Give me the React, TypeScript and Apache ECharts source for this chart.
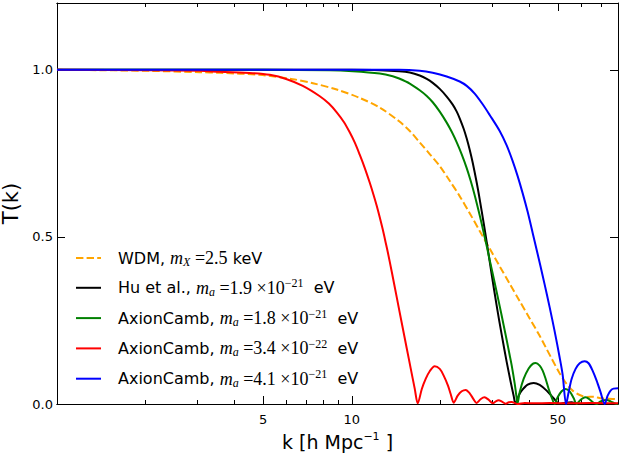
import React, { useEffect, useRef } from "react";
import * as echarts from "echarts";

// ---------- data (k in h/Mpc, T(k)) ----------
const xTickLabels = [5, 10, 50];
const xMinorTicks = [2, 3, 4, 6, 7, 8, 9, 20, 30, 40, 60, 70];
const yTicks = [0, 0.5, 1.0];

const seriesNames = [
  "WDM, m_X = 2.5 keV",
  "Hu et al., m_a = 1.9e-21 eV",
  "AxionCamb, m_a = 1.8e-21 eV",
  "AxionCamb, m_a = 3.4e-22 eV",
  "AxionCamb, m_a = 4.1e-21 eV",
];
const seriesColors = ["#FFA500", "#000000", "#008000", "#FF0000", "#0000FF"];

const wdmData = [
  [1.0, 1.0], [1.4, 0.999], [2.07, 0.997], [3.05, 0.993], [3.57, 0.991], [4.87, 0.985],
  [6.31, 0.972], [7.38, 0.96], [8.89, 0.941], [10.64, 0.916], [12.44, 0.887], [14.48, 0.846],
  [15.73, 0.817], [17.0, 0.783], [18.38, 0.748], [19.88, 0.712], [21.49, 0.668], [23.23, 0.622],
  [25.12, 0.571], [27.16, 0.518], [29.36, 0.465], [31.75, 0.412], [34.33, 0.36], [37.11, 0.308],
  [40.13, 0.256], [43.39, 0.204], [45.47, 0.17], [47.64, 0.136], [50.7, 0.092], [53.54, 0.06],
  [56.12, 0.04], [59.3, 0.027], [62.6, 0.021], [66.1, 0.022], [69.85, 0.017], [74.35, 0.016],
  [80.0, 0.014],
];

const huData = [
  [1.0, 1.0], [5.0, 1.0], [10.0, 1.0], [12.44, 0.999], [14.48, 0.996], [15.73, 0.992],
  [17.0, 0.983], [17.96, 0.973], [18.82, 0.961], [19.88, 0.943], [20.99, 0.92], [22.0, 0.896],
  [22.7, 0.875], [23.23, 0.855], [23.98, 0.823], [24.54, 0.7945], [25.12, 0.761], [25.72, 0.722],
  [26.54, 0.662], [27.16, 0.6125], [28.03, 0.5405], [28.7, 0.4835], [29.83, 0.3875], [31.0, 0.295],
  [32.25, 0.2075], [33.53, 0.126], [34.6, 0.066], [35.42, 0.024], [35.92, 0.0], [36.82, 0.025],
  [37.7, 0.04], [39.5, 0.058], [41.4, 0.063], [43.39, 0.057], [45.82, 0.04], [48.38, 0.017],
  [50.7, 0.0], [53.13, 0.004], [55.68, 0.005], [58.36, 0.001], [64.1, 0.001], [80.0, 0.0],
];

const axion18Data = [
  [1.0, 1.0], [5.0, 1.0], [8.42, 0.999], [10.08, 0.996], [12.44, 0.989], [13.77, 0.981],
  [14.48, 0.974], [15.73, 0.959], [17.0, 0.939], [17.96, 0.922], [18.82, 0.903], [19.88, 0.875],
  [20.99, 0.842], [21.83, 0.8145], [22.7, 0.783], [23.6, 0.747], [24.54, 0.706], [25.31, 0.668],
  [26.12, 0.625], [26.95, 0.577], [27.6, 0.5385], [28.7, 0.472], [29.36, 0.431], [30.53, 0.363],
  [31.75, 0.293], [32.76, 0.235], [33.53, 0.1915], [34.33, 0.146], [34.87, 0.1155], [35.69, 0.0615],
  [36.25, 0.0175], [36.47, 0.0], [37.11, 0.035], [38.28, 0.075], [39.81, 0.106], [41.08, 0.12],
  [42.06, 0.123], [43.39, 0.115], [44.42, 0.1], [45.47, 0.075], [46.55, 0.045], [47.64, 0.02],
  [48.76, 0.0], [49.92, 0.02], [51.5, 0.038], [53.13, 0.045], [54.83, 0.038], [56.56, 0.018],
  [57.9, 0.0], [59.3, 0.01], [60.7, 0.017], [62.11, 0.02], [63.57, 0.016], [65.6, 0.006],
  [67.7, 0.0], [69.3, 0.006], [71.5, 0.011], [73.2, 0.012], [75.5, 0.008], [77.9, 0.002],
  [79.1, 0.0], [80.0, 0.001],
];

const axion34Data = [
  [1.0, 1.0], [2.07, 0.999], [3.05, 0.997], [3.57, 0.994], [4.62, 0.99], [5.27, 0.985],
  [6.02, 0.972], [6.82, 0.952], [7.79, 0.921], [8.36, 0.899], [8.89, 0.873], [9.4, 0.844],
  [9.84, 0.813], [10.24, 0.782], [10.64, 0.746], [11.07, 0.706], [11.51, 0.662], [11.87, 0.624],
  [12.15, 0.593], [12.44, 0.559], [12.74, 0.522], [13.04, 0.482], [13.25, 0.454], [13.67, 0.395],
  [14.21, 0.319], [14.77, 0.243], [15.36, 0.167], [15.85, 0.106], [16.35, 0.046], [16.74, 0.002],
  [17.28, 0.045], [17.81, 0.075], [18.38, 0.098], [19.11, 0.113], [19.88, 0.105], [20.5, 0.085],
  [21.2, 0.055], [21.65, 0.03], [22.17, 0.004], [22.87, 0.025], [23.6, 0.038], [24.35, 0.042],
  [25.12, 0.032], [25.9, 0.014], [26.5, 0.003], [27.4, 0.015], [28.2, 0.02], [29.1, 0.013],
  [30.1, 0.002], [30.8, 0.008], [31.5, 0.011], [32.3, 0.007], [33.3, 0.001], [34.1, 0.005],
  [34.9, 0.006], [35.7, 0.003], [36.5, 0.0], [38.6, 0.003], [41.7, 0.002], [46.9, 0.003],
  [54.8, 0.002], [64.1, 0.003], [80.0, 0.002],
];

const axion41Data = [
  [1.0, 1.0], [10.0, 1.0], [14.48, 1.0], [17.0, 0.997], [18.82, 0.991], [20.99, 0.98],
  [23.23, 0.965], [24.54, 0.952], [26.12, 0.929], [27.8, 0.897], [29.36, 0.865], [31.75, 0.817],
  [33.53, 0.774], [35.14, 0.727], [36.53, 0.682], [37.98, 0.631], [39.5, 0.575], [41.08, 0.512],
  [42.39, 0.461], [43.73, 0.41], [45.1, 0.358], [46.9, 0.29], [48.76, 0.218], [50.7, 0.14],
  [51.91, 0.088], [53.34, 0.0], [54.39, 0.035], [55.68, 0.075], [57.44, 0.105], [59.3, 0.122],
  [61.66, 0.128], [63.57, 0.122], [65.6, 0.1], [67.7, 0.07], [69.85, 0.035], [72.07, 0.0],
  [73.78, 0.025], [75.5, 0.04], [77.3, 0.046], [80.0, 0.047],
];

const allData = [wdmData, huData, axion18Data, axion34Data, axion41Data];

// legend labels as rich text (math parts in serif italic)
const legendLabels: Record<string, string> = {
  [seriesNames[0]]: "{s0|WDM, }{mi|m}{sub|X}{mt| =2.5}{s| keV}",
  [seriesNames[1]]: "{s0|Hu et al., }{mi|m}{sub|a}{mt| =1.9 ×10}{sup|−21}{s|  eV}",
  [seriesNames[2]]: "{s0|AxionCamb, }{mi|m}{sub|a}{mt| =1.8 ×10}{sup|−21}{s|  eV}",
  [seriesNames[3]]: "{s0|AxionCamb, }{mi|m}{sub|a}{mt| =3.4 ×10}{sup|−22}{s|  eV}",
  [seriesNames[4]]: "{s0|AxionCamb, }{mi|m}{sub|a}{mt| =4.1 ×10}{sup|−21}{s|  eV}",
};

const SANS = "DejaVu Sans";
const SERIF = "Liberation Serif";

export default function App() {
  const ref = useRef<HTMLDivElement>(null);

  useEffect(() => {
    if (!ref.current) return;
    const chart = echarts.init(ref.current, null, { renderer: "svg" });

    const frame = { show: true, lineStyle: { color: "#000", width: 1 } };
    const baseX: any = {
      type: "log",
      logBase: 10,
      min: 1,
      max: 80,
      gridIndex: 0,
      splitLine: { show: false },
      minorTick: { show: false },
      minorSplitLine: { show: false },
      axisLine: frame,
    };
    const baseY: any = {
      type: "value",
      min: 0,
      max: 1.2,
      splitLine: { show: false },
      axisLine: frame,
    };

    const option: any = {
      animation: false,
      backgroundColor: "#fff",
      grid: {
        left: 57,
        right: 1,
        top: 3,
        bottom: 50,
        containLabel: false,
        outerBoundsMode: "none",
      },
      legend: {
        orient: "vertical",
        left: 75,
        top: 248,
        padding: 0,
        itemWidth: 25,
        itemHeight: 14,
        itemGap: 9.3,
        selectedMode: false,
        data: seriesNames,
        itemStyle: { opacity: 0 },
        formatter: (name: string) => legendLabels[name] || name,
        textStyle: {
          color: "#000",
          rich: {
            s0: { fontFamily: SANS, fontSize: 16, color: "#000", lineHeight: 20, padding: [0, 0, 0, 12] },
            s: { fontFamily: SANS, fontSize: 16, color: "#000", lineHeight: 20 },
            mi: { fontFamily: SERIF, fontStyle: "italic", fontSize: 18, color: "#000", lineHeight: 20 },
            mt: { fontFamily: SERIF, fontSize: 18, color: "#000", lineHeight: 20 },
            sub: { fontFamily: SERIF, fontStyle: "italic", fontSize: 12, color: "#000", lineHeight: 12, padding: [8, 0, 0, 0] },
            sup: { fontFamily: SERIF, fontSize: 12, color: "#000", lineHeight: 12, padding: [0, 0, 9, 0] },
          },
        },
      },
      xAxis: [
        {
          ...baseX,
          position: "bottom",
          name: "{a|k [h Mpc}{sup|−1}{a| ]}",
          nameLocation: "middle",
          nameGap: 25,
          nameTextStyle: {
            rich: {
              a: { fontFamily: SANS, fontSize: 19, color: "#000", lineHeight: 24 },
              sup: { fontFamily: SANS, fontSize: 11, color: "#000", lineHeight: 11, padding: [0, 0, 12, 0] },
            },
          },
          axisTick: { show: true, inside: true, length: 8, customValues: xTickLabels, lineStyle: { color: "#000" } },
          axisLabel: {
            show: true,
            customValues: xTickLabels,
            formatter: (v: number) => String(Math.round(v)),
            margin: 9,
            fontFamily: SANS,
            fontSize: 13,
            color: "#000",
          },
        },
        {
          ...baseX,
          position: "bottom",
          axisTick: { show: true, inside: true, length: 4, customValues: xMinorTicks, lineStyle: { color: "#000" } },
          axisLabel: { show: false },
        },
        {
          ...baseX,
          position: "top",
          axisTick: { show: true, inside: true, length: 8, customValues: xTickLabels, lineStyle: { color: "#000" } },
          axisLabel: { show: false },
        },
        {
          ...baseX,
          position: "top",
          axisTick: { show: true, inside: true, length: 4, customValues: xMinorTicks, lineStyle: { color: "#000" } },
          axisLabel: { show: false },
        },
      ],
      yAxis: [
        {
          ...baseY,
          position: "left",
          name: "T(k)",
          nameLocation: "middle",
          nameGap: 27,
          nameTextStyle: { fontFamily: SANS, fontSize: 21, color: "#000" },
          axisTick: { show: true, inside: true, length: 8, customValues: yTicks, lineStyle: { color: "#000" } },
          axisLabel: {
            show: true,
            customValues: yTicks,
            formatter: (v: number) => v.toFixed(1),
            margin: 4,
            fontFamily: SANS,
            fontSize: 13,
            color: "#000",
          },
        },
        {
          ...baseY,
          position: "right",
          axisTick: { show: true, inside: true, length: 8, customValues: yTicks, lineStyle: { color: "#000" } },
          axisLabel: { show: false },
        },
      ],
      series: seriesNames.map((name, i) => ({
        name,
        type: "line",
        xAxisIndex: 0,
        yAxisIndex: 0,
        data: allData[i],
        showSymbol: false,
        symbol: "none",
        smooth: 0.3,
        clip: true,
        silent: true,
        color: seriesColors[i],
        lineStyle: {
          color: seriesColors[i],
          width: 2,
          type: i === 0 ? [7.4, 3.2] : "solid",
        },
        emphasis: { disabled: true },
      })),
    };

    chart.setOption(option);
    return () => chart.dispose();
  }, []);

  return (
    <div
      ref={ref}
      style={{ position: "fixed", left: 0, top: 0, width: 619, height: 454 }}
    />
  );
}
